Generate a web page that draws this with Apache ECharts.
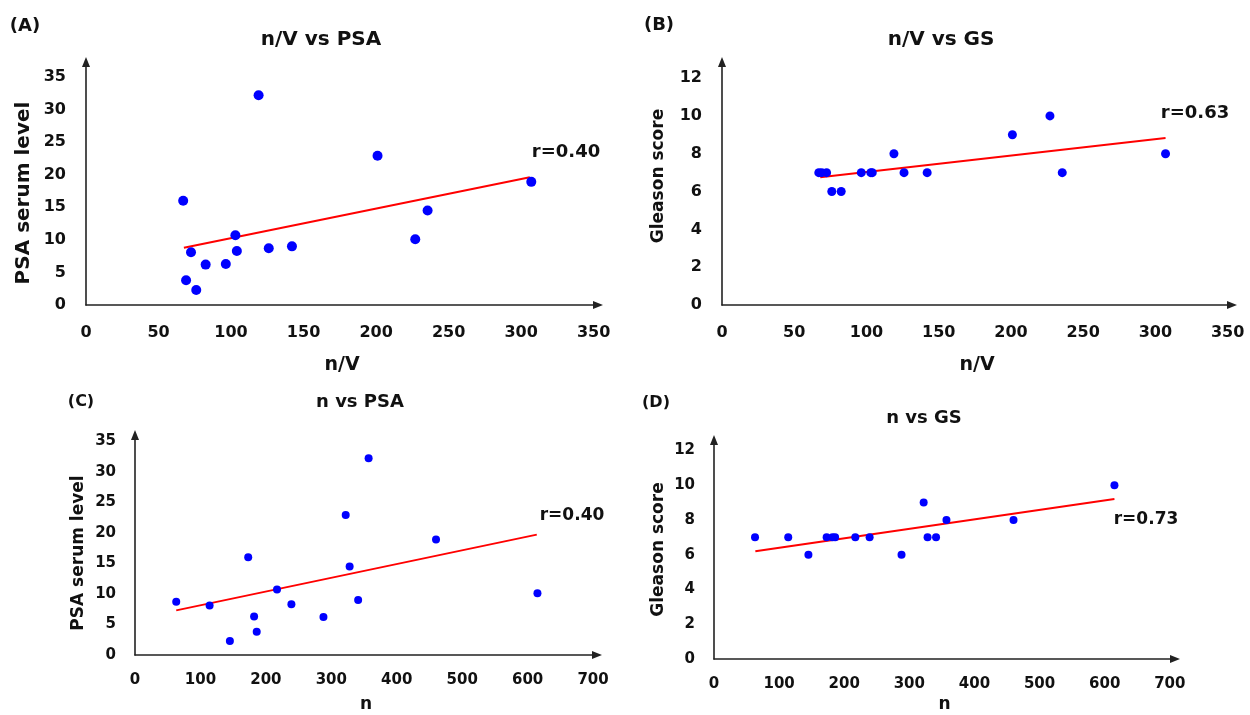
<!DOCTYPE html>
<html><head><meta charset="utf-8">
<script src="https://cdn.jsdelivr.net/npm/echarts@6/dist/echarts.min.js"></script>
<style>html,body{margin:0;padding:0;background:#fff}#c{width:1250px;height:715px}</style>
</head><body><div id="c"></div>
<script>
// Per-patient values (same patient order in every panel)
const nOverV   = [67, 69, 72.4, 76, 82.5, 96.4, 103, 104, 119, 126, 142, 201, 227, 235.5, 307];
const nCount   = [173, 186, 114, 145, 288, 182, 217, 239, 357, 63, 341, 322, 615, 328, 460];
const psaLevel = [16, 3.8, 8.1, 2.3, 6.2, 6.3, 10.7, 8.3, 32.2, 8.7, 9.0, 22.9, 10.1, 14.5, 18.9];
const gleason  = [7, 7, 7, 6, 6, 7, 7, 7, 8, 7, 7, 9, 10, 7, 8];

// Fitted line end points
const fitA = [[67.5, 8.8], [306, 19.6]];
const fitB = [[68, 6.75], [307, 8.83]];
const fitC = [[63, 7.3], [614, 19.7]];
const fitD = [[63.5, 6.2], [615, 9.2]];

// Texts
const panelLabels = ['(A)', '(B)', '(C)', '(D)'];
const panelTitles = ['n/V vs PSA', 'n/V vs GS', 'n vs PSA', 'n vs GS'];
const rLabels = ['r=0.40', 'r=0.63', 'r=0.40', 'r=0.73'];
const xNames = ['n/V', 'n/V', 'n', 'n'];
const yNames = ['PSA serum level', 'Gleason score', 'PSA serum level', 'Gleason score'];

const FONT = 'DejaVu Sans';
const INK = '#111';

function pairs(xs, ys) { return xs.map((x, i) => [x, ys[i]]); }

function axisLineStyle(size) {
  return {
    show: true, onZero: false,
    symbol: ['none', 'triangle'], symbolSize: size,
    lineStyle: { color: '#222', width: 1.6 }
  };
}

function makeX(gi, max, interval, fs, margin, name, nameGap, nameFs) {
  return {
    type: 'value', gridIndex: gi, min: 0, max: max, interval: interval,
    axisLine: axisLineStyle([8, 10]), axisTick: { show: false }, splitLine: { show: false },
    axisLabel: { margin: margin, color: INK, fontFamily: FONT, fontWeight: 'bold', fontSize: fs,
      showMaxLabel: false, formatter: v => (v % interval === 0 ? String(v) : '') },
    name: name, nameLocation: 'middle', nameGap: nameGap,
    nameTextStyle: { color: INK, fontFamily: FONT, fontWeight: 'bold', fontSize: nameFs }
  };
}
function makeY(gi, max, interval, fs, margin, name, nameGap, nameFs, pad) {
  return {
    type: 'value', gridIndex: gi, min: 0, max: max, interval: interval,
    axisLine: axisLineStyle([8, 10]), axisTick: { show: false }, splitLine: { show: false },
    axisLabel: { margin: margin, color: INK, fontFamily: FONT, fontWeight: 'bold', fontSize: fs,
      showMaxLabel: false, formatter: v => (v % interval === 0 ? String(v) : '') },
    name: name, nameLocation: 'middle', nameGap: nameGap,
    nameTextStyle: { color: INK, fontFamily: FONT, fontWeight: 'bold', fontSize: nameFs, padding: pad }
  };
}

function scatter(gi, xs, ys, size) {
  return { type: 'scatter', xAxisIndex: gi, yAxisIndex: gi, data: pairs(xs, ys),
    symbol: 'circle', symbolSize: size, itemStyle: { color: '#0000ff', opacity: 1 }, z: 3 };
}
function fitLine(gi, pts) {
  return { type: 'line', xAxisIndex: gi, yAxisIndex: gi, data: pts, showSymbol: false,
    symbol: 'none', lineStyle: { color: '#ff0000', width: 2 }, z: 2 };
}
function txt(s, x, y, fs) {
  return { type: 'text', x: x, y: y, z: 10,
    style: { text: s, fill: INK, font: 'bold ' + fs + 'px "' + FONT + '"', align: 'center', verticalAlign: 'middle' } };
}

const option = {
  animation: false,
  backgroundColor: '#fff',
  grid: [
    { left: 86, top: 62, width: 512, height: 243 },
    { left: 722, top: 62, width: 510, height: 243 },
    { left: 135, top: 435, width: 462, height: 220 },
    { left: 714, top: 440, width: 461, height: 219 }
  ],
  xAxis: [
    makeX(0, 353, 50, 16, 20, xNames[0], 51, 19),
    makeX(1, 353, 50, 16, 20, xNames[1], 51, 19),
    makeX(2, 706, 100, 15, 18, xNames[2], 41, 17),
    makeX(3, 708, 100, 15, 18, xNames[3], 37, 17)
  ],
  yAxis: [
    makeY(0, 37.3, 5, 16, 20, yNames[0], 52, 20, [0, 19, 0, 0]),
    makeY(1, 12.85, 2, 16, 20, yNames[1], 55, 17, [0, 0, 0, 15]),
    makeY(2, 36, 5, 15, 19, yNames[2], 48, 17, [0, 16, 0, 0]),
    makeY(3, 12.6, 2, 15, 19, yNames[3], 47, 17, [0, 0, 0, 0])
  ],
  series: [
    fitLine(0, fitA), scatter(0, nOverV, psaLevel, 10),
    fitLine(1, fitB), scatter(1, nOverV, gleason, 9),
    fitLine(2, fitC), scatter(2, nCount, psaLevel, 8),
    fitLine(3, fitD), scatter(3, nCount, gleason, 8)
  ],
  graphic: [
    txt(panelLabels[0], 25, 26, 18),
    txt(panelTitles[0], 321, 40, 20),
    txt(rLabels[0], 566, 152, 18),
    txt(panelLabels[1], 659, 25, 18),
    txt(panelTitles[1], 941, 40, 20),
    txt(rLabels[1], 1195, 113, 18),
    txt(panelLabels[2], 81, 402, 16),
    txt(panelTitles[2], 360, 402, 18),
    txt(rLabels[2], 572, 516, 17),
    txt(panelLabels[3], 656, 403, 16),
    txt(panelTitles[3], 924, 418, 18),
    txt(rLabels[3], 1146, 520, 17)
  ]
};

const chart = echarts.init(document.getElementById('c'), null, { renderer: 'canvas' });
chart.setOption(option);
</script>
</body></html>
